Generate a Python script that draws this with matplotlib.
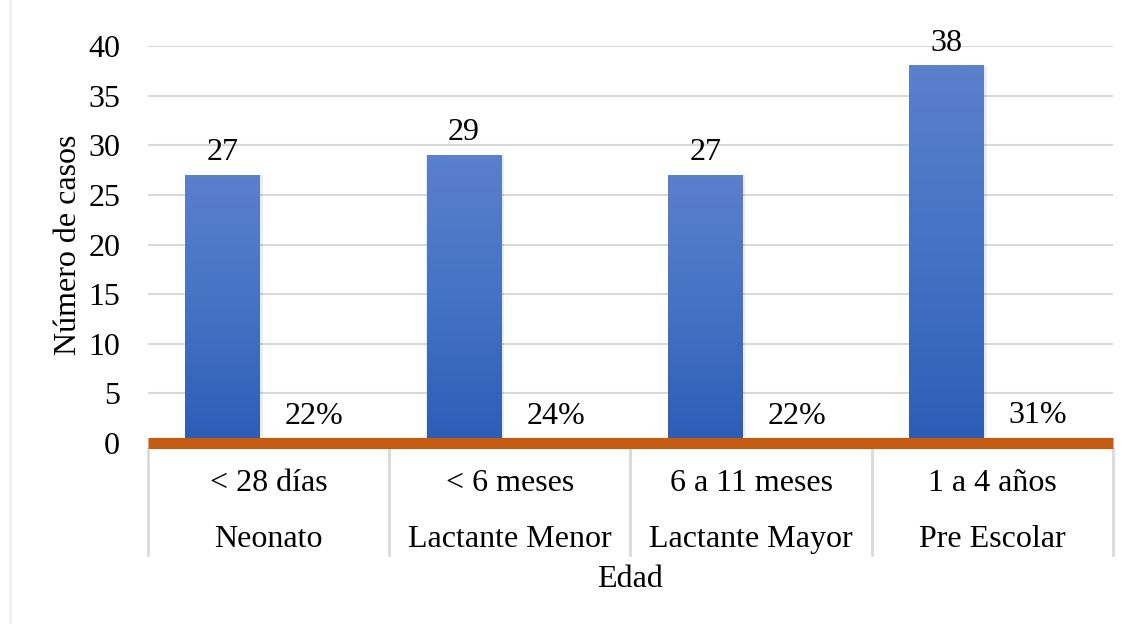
import numpy as np
import matplotlib
matplotlib.use('Agg')
import matplotlib.pyplot as plt
from matplotlib.colors import LinearSegmentedColormap
from matplotlib.lines import Line2D

# datos
rangos = ['< 28 días', '< 6 meses', '6 a 11 meses', '1 a 4 años']
grupos = ['Neonato', 'Lactante Menor', 'Lactante Mayor', 'Pre Escolar']
casos = [27, 29, 27, 38]
porcentaje = [0.22, 0.24, 0.22, 0.31]

plt.rcParams['font.family'] = ['Liberation Serif', 'DejaVu Serif']
plt.rcParams['font.size'] = 23

fig = plt.figure(figsize=(11.26, 6.24), dpi=100)
ax = fig.add_axes([0.1314, 0.290, 0.857, 0.636])

x = np.arange(len(casos))
ancho = 0.31
desp = 0.19

# degradado azul de las barras
cmap = LinearSegmentedColormap.from_list('azul', ['#2C5DB6', '#4472C4', '#5B80CC'])
grad = np.linspace(0, 1, 256).reshape(-1, 1)

barras = ax.bar(x - desp, casos, ancho, color='#4472C4', zorder=2)
for b in barras:
    x0, w, h = b.get_x(), b.get_width(), b.get_height()
    # sombra
    ax.bar(x0 + w / 2 + 0.005, h, w + 0.012, color='#000000', alpha=0.07, zorder=1.5)
    ax.imshow(grad, cmap=cmap, origin='lower', aspect='auto',
              extent=(x0, x0 + w, 0, h), zorder=2.5)
    b.set_alpha(0)

barras_p = ax.bar(x + desp, porcentaje, ancho, color='#C55A11', zorder=2)

for xi, v in zip(x, casos):
    ax.annotate(str(v), (xi - desp, v), xytext=(0, 11), textcoords='offset points',
                ha='center', va='baseline')
for xi, p in zip(x, porcentaje):
    ax.annotate('{:.0f}%'.format(p * 100), (xi + desp, p), xytext=(0, 12),
                textcoords='offset points', ha='center', va='baseline')

ax.set_xlim(-0.5, 3.5)
ax.set_ylim(0, 40)
ax.set_yticks(range(0, 41, 5))
ax.yaxis.grid(True, color='#D9D9D9', linewidth=1.5, zorder=0)
ax.set_axisbelow(True)
ax.tick_params(axis='y', length=0, pad=20)
ax.set_xticks([])
for s in ['top', 'right', 'left']:
    ax.spines[s].set_visible(False)
ax.spines['bottom'].set_color('#C55A11')
ax.spines['bottom'].set_linewidth(8)
ax.spines['bottom'].set_capstyle('butt')
ax.spines['bottom'].set_zorder(3)

# etiquetas de categoría en dos niveles
for xi, r, g in zip(x, rangos, grupos):
    ax.text(xi, -0.103, r, transform=ax.get_xaxis_transform(), ha='center', va='center')
    ax.text(xi, -0.244, g, transform=ax.get_xaxis_transform(), ha='center', va='center')
for xs in np.arange(-0.5, 4, 1):
    ax.add_line(Line2D([xs, xs], [-0.015, -0.282], transform=ax.get_xaxis_transform(),
                       color='#D9D9D9', linewidth=2, clip_on=False))

ax.text(0.5, -0.345, 'Edad', transform=ax.transAxes, ha='center', va='center')
ax.set_ylabel('Número de casos')
ax.yaxis.set_label_coords(-0.067, 0.5)

fig.add_artist(Line2D([0.009, 0.009], [0.0, 1.0], color='#EEF0F4', linewidth=2))

fig.savefig('out.png', dpi=100)
